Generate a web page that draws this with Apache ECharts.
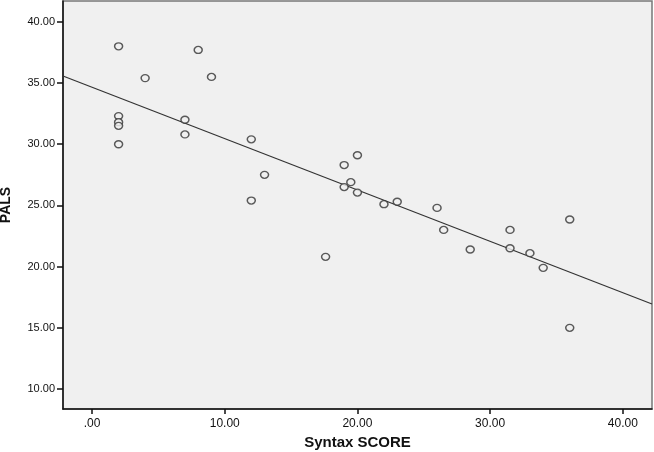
<!DOCTYPE html>
<html>
<head>
<meta charset="utf-8">
<script src="https://cdn.jsdelivr.net/npm/echarts@6/dist/echarts.min.js"></script>
<style>
  html, body { margin: 0; padding: 0; background: #fff; }
  #main { width: 654px; height: 452px; }
</style>
</head>
<body>
<div id="main"></div>
<script>
var chart = echarts.init(document.getElementById('main'));

// Syntax SCORE (x) and PALS (y)
var syntax_score = [2, 2, 2, 2, 2, 4, 8, 9, 7, 7, 12, 12, 13, 17.6, 19, 19, 19.5, 20, 20, 22, 23, 26, 26.5, 28.5, 31.5, 31.5, 33, 34, 36, 36];
var pals = [38.0, 32.3, 31.8, 31.5, 30.0, 35.4, 37.7, 35.5, 32.0, 30.8, 30.4, 25.4, 27.5, 20.8, 28.3, 26.5, 26.9, 29.1, 26.05, 25.1, 25.3, 24.8, 23.0, 21.4, 23.0, 21.5, 21.1, 19.9, 23.85, 15.0];

// fit line end points
var fit_x = [-2.19, 42.2];
var fit_y = [35.57, 16.95];

var x_ticks = [0, 10, 20, 30, 40];
var y_ticks = [10, 15, 20, 25, 30, 35, 40];

var points = syntax_score.map(function (v, i) { return [v, pals[i]]; });
var fit_points = fit_x.map(function (v, i) { return [v, fit_y[i]]; });

function fmt(v) {
    return v === 0 ? '.00' : v.toFixed(2);
}

var option = {
    backgroundColor: '#ffffff',
    animation: false,
    grid: {
        left: 63,
        right: 2,
        top: 1,
        bottom: 43,
        outerBoundsMode: 'none',
        containLabel: false,
        show: true,
        backgroundColor: '#f0f0f0',
        borderColor: '#777',
        borderWidth: 1.5
    },
    xAxis: {
        type: 'value',
        min: -2.19,
        max: 42.2,
        name: 'Syntax SCORE',
        nameLocation: 'middle',
        nameGap: 26,
        nameTextStyle: { fontFamily: 'Liberation Sans', fontWeight: 'bold', fontSize: 15, color: '#111' },
        splitLine: { show: false },
        axisLine: { show: true, onZero: false, lineStyle: { color: '#111', width: 1.5 } },
        axisTick: { show: true, customValues: x_ticks, length: 5, lineStyle: { color: '#111', width: 1.5 } },
        axisLabel: {
            customValues: x_ticks,
            formatter: fmt,
            margin: 9,
            fontFamily: 'Liberation Sans',
            fontSize: 12,
            color: '#111'
        }
    },
    yAxis: {
        type: 'value',
        min: 8.37,
        max: 41.7,
        name: 'PALS',
        nameLocation: 'middle',
        nameGap: 50,
        nameTextStyle: { fontFamily: 'Liberation Sans', fontWeight: 'bold', fontSize: 14, color: '#111' },
        splitLine: { show: false },
        axisLine: { show: true, onZero: false, lineStyle: { color: '#111', width: 1.5 } },
        axisTick: { show: true, customValues: y_ticks, length: 6, lineStyle: { color: '#111', width: 1.5 } },
        axisLabel: {
            customValues: y_ticks,
            formatter: fmt,
            margin: 8,
            fontFamily: 'Liberation Sans',
            fontSize: 11,
            color: '#111'
        }
    },
    series: [
        {
            name: 'fit',
            type: 'line',
            data: fit_points,
            showSymbol: false,
            silent: true,
            lineStyle: { color: '#333', width: 1.2 },
            z: 1
        },
        {
            name: 'PALS',
            type: 'scatter',
            data: points,
            symbol: 'circle',
            symbolSize: [8, 7],
            itemStyle: { color: '#f0f0f0', borderColor: '#333', borderWidth: 1.4 },
            z: 2
        }
    ]
};

chart.setOption(option);
</script>
</body>
</html>
